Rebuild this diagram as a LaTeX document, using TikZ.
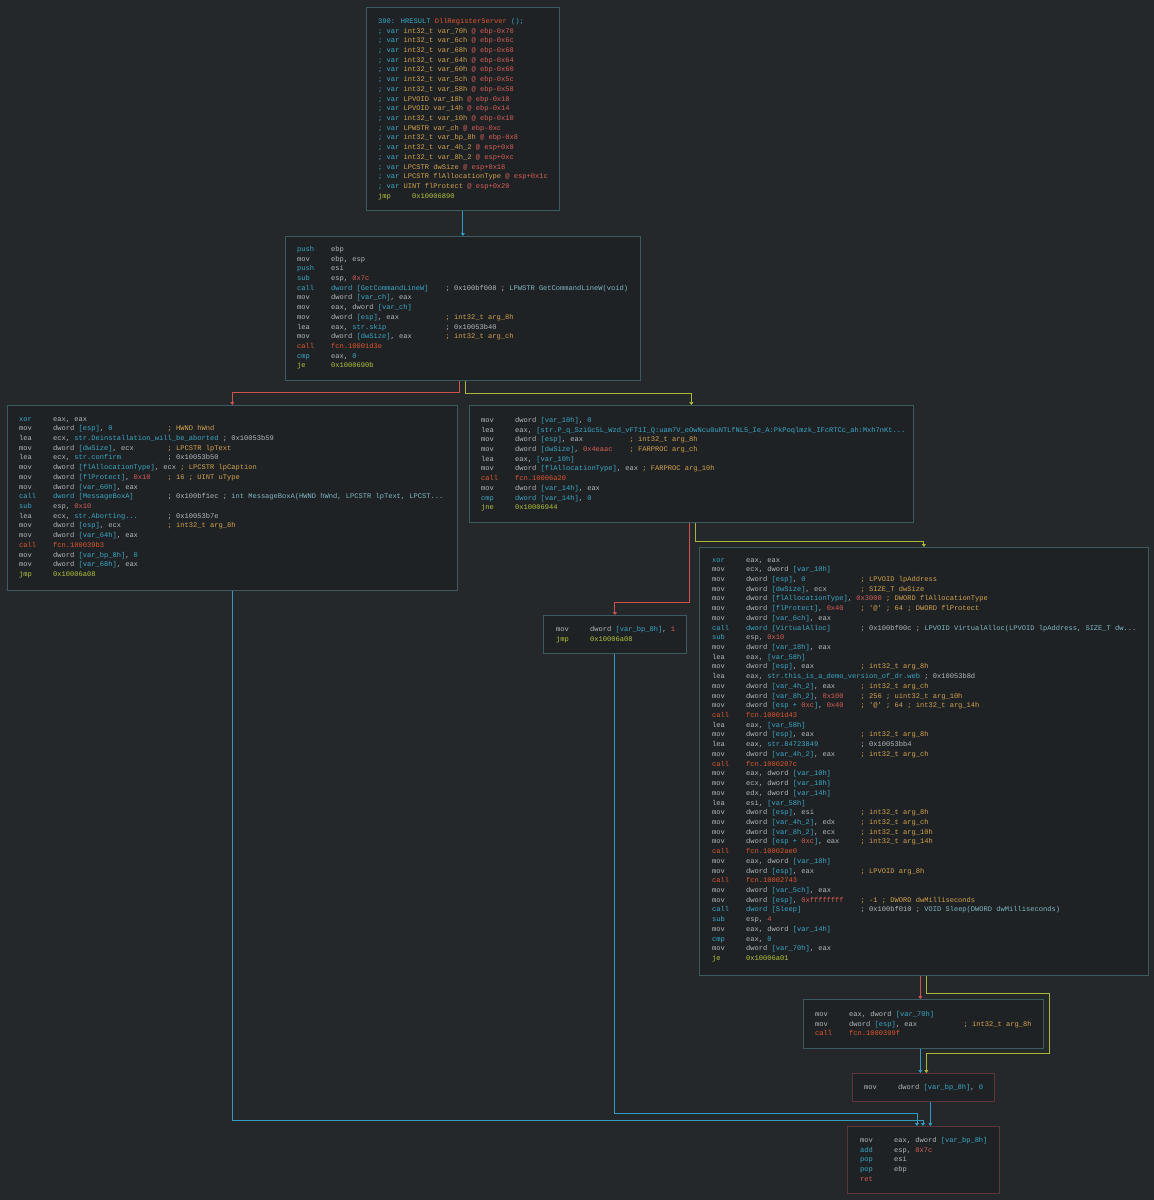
\documentclass[tikz,border=0pt]{standalone}
\usepackage{fontspec}
\usetikzlibrary{arrows.meta}
\newfontfamily\mono{Liberation Mono}
\definecolor{bg}{HTML}{25282B}
\definecolor{bf}{HTML}{1F2225}
\definecolor{bc}{HTML}{3A5C60}
\definecolor{bcr}{HTML}{5E3539}
\definecolor{tx}{HTML}{B4B8BC}
\definecolor{cya}{HTML}{3AA8C6}
\definecolor{nrd}{HTML}{D65D57}
\definecolor{orf}{HTML}{E0572D}
\definecolor{jgr}{HTML}{B3C43A}
\definecolor{tyl}{HTML}{D2A24C}
\definecolor{pcy}{HTML}{7FB8C0}
\definecolor{ecy}{HTML}{2F9CC0}
\definecolor{erd}{HTML}{D0504C}
\definecolor{eyl}{HTML}{A9B636}
\newcommand\xa[1]{\textcolor{cya}{#1}}
\newcommand\xn[1]{\textcolor{nrd}{#1}}
\newcommand\xf[1]{\textcolor{orf}{#1}}
\newcommand\xj[1]{\textcolor{jgr}{#1}}
\newcommand\xt[1]{\textcolor{tyl}{#1}}
\newcommand\xp[1]{\textcolor{pcy}{#1}}
\newlength\cw \setlength\cw{4.242pt}
\newlength\opw
\newcommand\I[3]{\makebox[8\cw][l]{#1}\settowidth\opw{#2}\ifdim\opw<27\cw\makebox[27\cw][l]{#2}\else#2\ \fi#3}
\newcommand\V[3]{\xa{; var} \xt{#1} \xt{#2} \xn{@ #3}}
\begin{document}
\begin{tikzpicture}[x=1pt,y=-1pt,
  blk/.style={draw=bc,fill=bf,line width=0.7pt,anchor=north west,inner sep=0},
  txt/.style={anchor=north west,inner sep=0,align=left,text=tx,font=\mono\fontsize{7.07}{9.72}\selectfont},
  tip/.style={-{Triangle[length=3pt,width=4pt]}},
  ce/.style={draw=ecy,line width=0.9pt,tip},
  re/.style={draw=erd,line width=0.9pt,tip},
  ye/.style={draw=eyl,line width=0.9pt,tip}]
\fill[bg] (0,0) rectangle (1154,1200);
\useasboundingbox (0,0) rectangle (1154,1200);
% blocks
\node[blk,minimum width=193,minimum height=203] (b1) at (366,7) {};
\node[blk,minimum width=355,minimum height=144] (b2) at (285,236) {};
\node[blk,minimum width=450,minimum height=185] (b3) at (7,405) {};
\node[blk,minimum width=444,minimum height=117] (b4) at (469,405) {};
\node[blk,minimum width=143,minimum height=38] (b5) at (543,615) {};
\node[blk,minimum width=449,minimum height=428] (b6) at (699,547) {};
\node[blk,minimum width=240,minimum height=49] (b7) at (803,999) {};
\node[blk,draw=bcr,minimum width=142,minimum height=28] (b8) at (852,1073) {};
\node[blk,draw=bcr,minimum width=152,minimum height=67] (b9) at (847,1126) {};
% texts
\node[txt] (t1) at (378,18) {\xa{390: HRESULT} \xf{DllRegisterServer} \xa{();}\\
\V{int32\_t}{var\_70h}{ebp-0x70}\\
\V{int32\_t}{var\_6ch}{ebp-0x6c}\\
\V{int32\_t}{var\_68h}{ebp-0x68}\\
\V{int32\_t}{var\_64h}{ebp-0x64}\\
\V{int32\_t}{var\_60h}{ebp-0x60}\\
\V{int32\_t}{var\_5ch}{ebp-0x5c}\\
\V{int32\_t}{var\_58h}{ebp-0x58}\\
\V{LPVOID}{var\_18h}{ebp-0x18}\\
\V{LPVOID}{var\_14h}{ebp-0x14}\\
\V{int32\_t}{var\_10h}{ebp-0x10}\\
\V{LPWSTR}{var\_ch}{ebp-0xc}\\
\V{int32\_t}{var\_bp\_8h}{ebp-0x8}\\
\V{int32\_t}{var\_4h\_2}{esp+0x8}\\
\V{int32\_t}{var\_8h\_2}{esp+0xc}\\
\V{LPCSTR}{dwSize}{esp+0x18}\\
\V{LPCSTR}{flAllocationType}{esp+0x1c}\\
\V{UINT}{flProtect}{esp+0x20}\\
\I{\xj{jmp}}{\xj{0x10006890}}{}};
\node[txt] (t2) at (297,246) {\I{\xa{push}}{ebp}{}\\
\I{mov}{ebp, esp}{}\\
\I{\xa{push}}{esi}{}\\
\I{\xa{sub}}{esp, \xn{0x7c}}{}\\
\I{\xa{call}}{\xa{dword [GetCommandLineW]}}{; 0x100bf008 ; \xp{LPWSTR GetCommandLineW(void)}}\\
\I{mov}{dword \xa{[var\_ch]}, eax}{}\\
\I{mov}{eax, dword \xa{[var\_ch]}}{}\\
\I{mov}{dword \xa{[esp]}, eax}{\xt{; int32\_t arg\_8h}}\\
\I{lea}{eax, \xa{str.skip}}{; 0x10053b40}\\
\I{mov}{dword \xa{[dwSize]}, eax}{\xt{; int32\_t arg\_ch}}\\
\I{\xf{call}}{\xf{fcn.10001d3e}}{}\\
\I{\xa{cmp}}{eax, \xa{0}}{}\\
\I{\xj{je}}{\xj{0x1000690b}}{}};
\node[txt] (t3) at (19,417) {\I{\xa{xor}}{eax, eax}{}\\
\I{mov}{dword \xa{[esp]}, \xa{0}}{\xt{; HWND hWnd}}\\
\I{lea}{ecx, \xa{str.Deinstallation\_will\_be\_aborted}}{; 0x10053b59}\\
\I{mov}{dword \xa{[dwSize]}, ecx}{\xt{; LPCSTR lpText}}\\
\I{lea}{ecx, \xa{str.confirm}}{; 0x10053b50}\\
\I{mov}{dword \xa{[flAllocationType]}, ecx}{\xt{; LPCSTR lpCaption}}\\
\I{mov}{dword \xa{[flProtect]}, \xn{0x10}}{\xt{; 16 ; UINT uType}}\\
\I{mov}{dword \xa{[var\_60h]}, eax}{}\\
\I{\xa{call}}{\xa{dword [MessageBoxA]}}{; 0x100bf1ec ; \xp{int MessageBoxA(HWND hWnd, LPCSTR lpText, LPCST...}}\\
\I{\xa{sub}}{esp, \xn{0x10}}{}\\
\I{lea}{ecx, \xa{str.Aborting...}}{; 0x10053b7e}\\
\I{mov}{dword \xa{[esp]}, ecx}{\xt{; int32\_t arg\_8h}}\\
\I{mov}{dword \xa{[var\_64h]}, eax}{}\\
\I{\xf{call}}{\xf{fcn.100039b3}}{}\\
\I{mov}{dword \xa{[var\_bp\_8h]}, \xa{0}}{}\\
\I{mov}{dword \xa{[var\_68h]}, eax}{}\\
\I{\xj{jmp}}{\xj{0x10006a08}}{}};
\node[txt] (t4) at (481,417) {\I{mov}{dword \xa{[var\_10h]}, \xa{0}}{}\\
\I{lea}{eax, \xa{[str.P\_q\_SziGc5L\_Wzd\_vFT1I\_Q:uam7V\_eOwNcu0uNTLfNL5\_Ie\_A:PkPoqlmzk\_IFcRTCc\_ah:Mxh7nKt...}}{}\\
\I{mov}{dword \xa{[esp]}, eax}{\xt{; int32\_t arg\_8h}}\\
\I{mov}{dword \xa{[dwSize]}, \xn{0x4eaac}}{\xt{; FARPROC arg\_ch}}\\
\I{lea}{eax, \xa{[var\_10h]}}{}\\
\I{mov}{dword \xa{[flAllocationType]}, eax}{\xt{; FARPROC arg\_10h}}\\
\I{\xf{call}}{\xf{fcn.10006a20}}{}\\
\I{mov}{dword \xa{[var\_14h]}, eax}{}\\
\I{\xa{cmp}}{\xa{dword [var\_14h]}, \xa{0}}{}\\
\I{\xj{jne}}{\xj{0x10006944}}{}};
\node[txt] (t5) at (556,626) {\I{mov}{dword \xa{[var\_bp\_8h]}, \xn{1}}{}\\
\I{\xj{jmp}}{\xj{0x10006a08}}{}};
\node[txt] (t6) at (712,558) {\I{\xa{xor}}{eax, eax}{}\\
\I{mov}{ecx, dword \xa{[var\_10h]}}{}\\
\I{mov}{dword \xa{[esp]}, \xa{0}}{\xt{; LPVOID lpAddress}}\\
\I{mov}{dword \xa{[dwSize]}, ecx}{\xt{; SIZE\_T dwSize}}\\
\I{mov}{dword \xa{[flAllocationType]}, \xn{0x3000}}{\xt{; DWORD flAllocationType}}\\
\I{mov}{dword \xa{[flProtect]}, \xn{0x40}}{\xt{; '@' ; 64 ; DWORD flProtect}}\\
\I{mov}{dword \xa{[var\_6ch]}, eax}{}\\
\I{\xa{call}}{\xa{dword [VirtualAlloc]}}{; 0x100bf00c ; \xp{LPVOID VirtualAlloc(LPVOID lpAddress, SIZE\_T dw...}}\\
\I{\xa{sub}}{esp, \xn{0x10}}{}\\
\I{mov}{dword \xa{[var\_18h]}, eax}{}\\
\I{lea}{eax, \xa{[var\_58h]}}{}\\
\I{mov}{dword \xa{[esp]}, eax}{\xt{; int32\_t arg\_8h}}\\
\I{lea}{eax, \xa{str.this\_is\_a\_demo\_version\_of\_dr.web}}{; 0x10053b8d}\\
\I{mov}{dword \xa{[var\_4h\_2]}, eax}{\xt{; int32\_t arg\_ch}}\\
\I{mov}{dword \xa{[var\_8h\_2]}, \xn{0x100}}{\xt{; 256 ; uint32\_t arg\_10h}}\\
\I{mov}{dword \xa{[esp + \xn{0xc}]}, \xn{0x40}}{\xt{; '@' ; 64 ; int32\_t arg\_14h}}\\
\I{\xf{call}}{\xf{fcn.10001d43}}{}\\
\I{lea}{eax, \xa{[var\_58h]}}{}\\
\I{mov}{dword \xa{[esp]}, eax}{\xt{; int32\_t arg\_8h}}\\
\I{lea}{eax, \xa{str.84723849}}{; 0x10053bb4}\\
\I{mov}{dword \xa{[var\_4h\_2]}, eax}{\xt{; int32\_t arg\_ch}}\\
\I{\xf{call}}{\xf{fcn.1000207c}}{}\\
\I{mov}{eax, dword \xa{[var\_10h]}}{}\\
\I{mov}{ecx, dword \xa{[var\_18h]}}{}\\
\I{mov}{edx, dword \xa{[var\_14h]}}{}\\
\I{lea}{esi, \xa{[var\_58h]}}{}\\
\I{mov}{dword \xa{[esp]}, esi}{\xt{; int32\_t arg\_8h}}\\
\I{mov}{dword \xa{[var\_4h\_2]}, edx}{\xt{; int32\_t arg\_ch}}\\
\I{mov}{dword \xa{[var\_8h\_2]}, ecx}{\xt{; int32\_t arg\_10h}}\\
\I{mov}{dword \xa{[esp + \xn{0xc}]}, eax}{\xt{; int32\_t arg\_14h}}\\
\I{\xf{call}}{\xf{fcn.10002ae0}}{}\\
\I{mov}{eax, dword \xa{[var\_18h]}}{}\\
\I{mov}{dword \xa{[esp]}, eax}{\xt{; LPVOID arg\_8h}}\\
\I{\xf{call}}{\xf{fcn.10002743}}{}\\
\I{mov}{dword \xa{[var\_5ch]}, eax}{}\\
\I{mov}{dword \xa{[esp]}, \xn{0xffffffff}}{\xt{; -1 ; DWORD dwMilliseconds}}\\
\I{\xa{call}}{\xa{dword [Sleep]}}{; 0x100bf010 ; \xp{VOID Sleep(DWORD dwMilliseconds)}}\\
\I{\xa{sub}}{esp, \xn{4}}{}\\
\I{mov}{eax, dword \xa{[var\_14h]}}{}\\
\I{\xa{cmp}}{eax, \xa{0}}{}\\
\I{mov}{dword \xa{[var\_70h]}, eax}{}\\
\I{\xj{je}}{\xj{0x10006a01}}{}};
\node[txt] (t7) at (815,1011) {\I{mov}{eax, dword \xa{[var\_70h]}}{}\\
\I{mov}{dword \xa{[esp]}, eax}{\xt{; int32\_t arg\_8h}}\\
\I{\xf{call}}{\xf{fcn.1000399f}}{}};
\node[txt] (t8) at (864,1084) {\I{mov}{dword \xa{[var\_bp\_8h]}, \xa{0}}{}};
\node[txt] (t9) at (860,1137) {\I{mov}{eax, dword \xa{[var\_bp\_8h]}}{}\\
\I{\xa{add}}{esp, \xn{0x7c}}{}\\
\I{\xa{pop}}{esi}{}\\
\I{\xa{pop}}{ebp}{}\\
\I{\xn{ret}}{}{}};
% edges
\coordinate (y1) at (1049,993);
\coordinate (y2) at (1049,1053);
\coordinate (j3) at (923,1120);
\coordinate (j5) at (917,1113);
\draw[ce] (b1.south) -- (b2.north);
\draw[re] ([xshift=-3.5]b2.south) -- ++(0,12) -| (b3.north);
\draw[ye] ([xshift=2.5]b2.south) -- ++(0,13) -| (b4.north);
\draw[re] ([xshift=-2]b4.south) -- ++(0,80) -| (b5.north);
\draw[ye] ([xshift=4]b4.south) -- ++(0,19) -| (b6.north);
\draw[re] ([xshift=-3.5]b6.south) -- ([xshift=-3.5]b6.south |- b7.north);
\draw[ye] ([xshift=2.5]b6.south) |- (y1) -- (y2) -| ([xshift=3]b8.north);
\draw[ce] ([xshift=-3]b7.south) -- ([xshift=-3]b7.south |- b8.north);
\draw[ce] (b3.south) |- (j3) -- (j3 |- b9.north);
\draw[ce] (b5.south) |- (j5) -- (j5 |- b9.north);
\draw[ce] ([xshift=7]b8.south) -- ([xshift=7]b8.south |- b9.north);
\end{tikzpicture}
\end{document}
